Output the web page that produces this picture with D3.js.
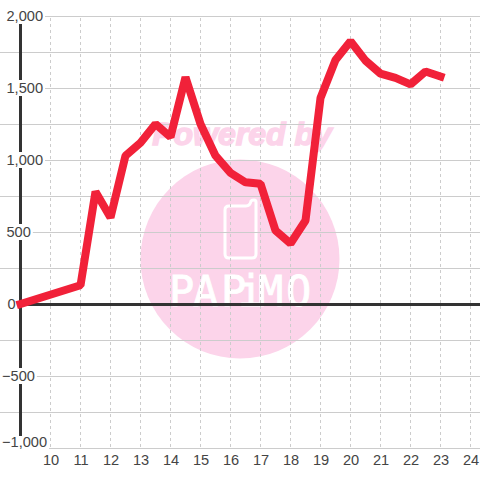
<!DOCTYPE html>
<html>
<head>
<meta charset="utf-8">
<script src="https://cdnjs.cloudflare.com/ajax/libs/d3/7.8.5/d3.min.js"></script>
<style>
    html, body { margin: 0; padding: 0; background: #fff; }
    svg { display: block; }
    text { font-family: "Liberation Sans", Arial, sans-serif; }
</style>
</head>
<body>
<svg width="480" height="480"></svg>
<script>
var hours = [9, 11, 11.5, 12, 12.5, 13, 13.5, 14, 14.5, 15, 15.5, 16, 16.5, 17, 17.5, 18, 18.5, 19, 19.5, 20, 20.5, 21, 21.5, 22, 22.5, 23];
var values = [0, 130, 780, 600, 1030, 1120, 1250, 1160, 1575, 1250, 1030, 910, 845, 835, 510, 420, 580, 1430, 1695, 1825, 1690, 1600, 1570, 1525, 1615, 1580];
var hourTicks = [10, 11, 12, 13, 14, 15, 16, 17, 18, 19, 20, 21, 22, 23, 24];
var valueTicks = [2000, 1750, 1500, 1250, 1000, 750, 500, 250, 0, -250, -500, -750, -1000];
var labelTicks = [2000, 1500, 1000, 500, 0, -500, -1000];

var svg = d3.select("svg");
var x = d3.scaleLinear().domain([9, 24]).range([20.5, 470.5]);
var y = d3.scaleLinear().domain([-1000, 2000]).range([448, 16]);
var format = d3.format(",");

// watermark sits under the grid
var mark = svg.append("g").attr("class", "watermark");
mark.append("circle")
    .attr("cx", 240).attr("cy", 259).attr("r", 99.5)
    .attr("fill", "#fcd4ea");
mark.append("text")
    .attr("x", 242).attr("y", 145)
    .attr("text-anchor", "middle")
    .attr("font-size", 32)
    .attr("font-weight", "bold")
    .attr("font-style", "italic")
    .attr("fill", "#fcd4ea")
    .attr("stroke", "#fcd4ea")
    .attr("stroke-width", 1.5)
    .text("Powered by");
mark.append("path")
    .attr("d", "M229 206H246Q250 206 251 201Q252 200 254 200Q256 200 256 202V254Q256 258 252 258H229Q225 258 225 254V210Q225 206 229 206Z")
    .attr("fill", "none")
    .attr("stroke", "#fff")
    .attr("stroke-width", 3);
mark.append("text")
    .attr("x", "169 193 221 238 258 286")
    .attr("y", 306)
    .attr("font-size", 42)
    .attr("fill", "#fff")
    .attr("stroke", "#fff")
    .attr("stroke-width", 0.8)
    .style("font-family", "'DejaVu Sans Mono', monospace")
    .text("PAPiMO");

// grid
svg.append("g").attr("class", "grid-h")
    .selectAll("line")
    .data(valueTicks)
    .enter().append("line")
        .attr("x1", 0)
        .attr("x2", 480)
        .attr("y1", function(d) { return Math.round(y(d)) + 0.5; })
        .attr("y2", function(d) { return Math.round(y(d)) + 0.5; })
        .attr("stroke", "#cccccc");

svg.append("g").attr("class", "grid-v")
    .selectAll("line")
    .data(hourTicks)
    .enter().append("line")
        .attr("x1", function(d) { return x(d); })
        .attr("x2", function(d) { return x(d); })
        .attr("y1", 18)
        .attr("y2", 448)
        .attr("stroke", "#cccccc")
        .attr("stroke-dasharray", "3,3");

// axis lines
svg.append("line")
    .attr("x1", x(9)).attr("x2", x(9))
    .attr("y1", 16).attr("y2", 448)
    .attr("stroke", "#333333").attr("stroke-width", 3);
svg.append("line")
    .attr("x1", x(9)).attr("x2", 480)
    .attr("y1", y(0) + 0.5).attr("y2", y(0) + 0.5)
    .attr("stroke", "#333333").attr("stroke-width", 3);

// y labels have a white box behind them which cuts the axis
var labels = svg.append("g").attr("class", "y-labels")
    .selectAll("g")
    .data(labelTicks)
    .enter().append("g");

var labelText = labels.append("text")
    .attr("x", function(d) { return d < 0 ? 2 : (d == 0 ? 7.5 : 6.5); })
    .attr("y", function(d) { return d == -1000 ? y(d) - 6.5 : y(d); })
    .attr("dy", "0.36em")
    .attr("font-size", 14.6)
    .attr("fill", "#444444")
    .text(function(d) { return format(d); });

labelText.each(function(d) {
    var box = this.getBBox();
    var top = d == -1000 ? y(d) - 12 : y(d) - 8;
    d3.select(this.parentNode).insert("rect", "text")
        .attr("x", 0)
        .attr("y", top)
        .attr("width", box.x + box.width + 2)
        .attr("height", d == -1000 ? 24 : 16)
        .attr("fill", "#fff");
});

// x labels
var xAxis = d3.axisBottom(x).tickValues(hourTicks).tickSize(0).tickPadding(0);
var xGroup = svg.append("g")
    .attr("transform", "translate(0,456)")
    .call(xAxis);
xGroup.select(".domain").remove();
xGroup.selectAll("text")
    .attr("font-size", 14.6)
    .attr("font-family", "Liberation Sans")
    .attr("fill", "#444444")
    .attr("dy", "0.6em")
    .attr("y", 0);

// sales line
var line = d3.line()
    .x(function(d, i) { return x(hours[i]); })
    .y(function(d) { return y(d); });

svg.append("path")
    .datum(values)
    .attr("d", line)
    .attr("fill", "none")
    .attr("stroke", "#f12139")
    .attr("stroke-width", 8)
    .attr("stroke-linecap", "square")
    .attr("stroke-linejoin", "bevel");
</script>
</body>
</html>
